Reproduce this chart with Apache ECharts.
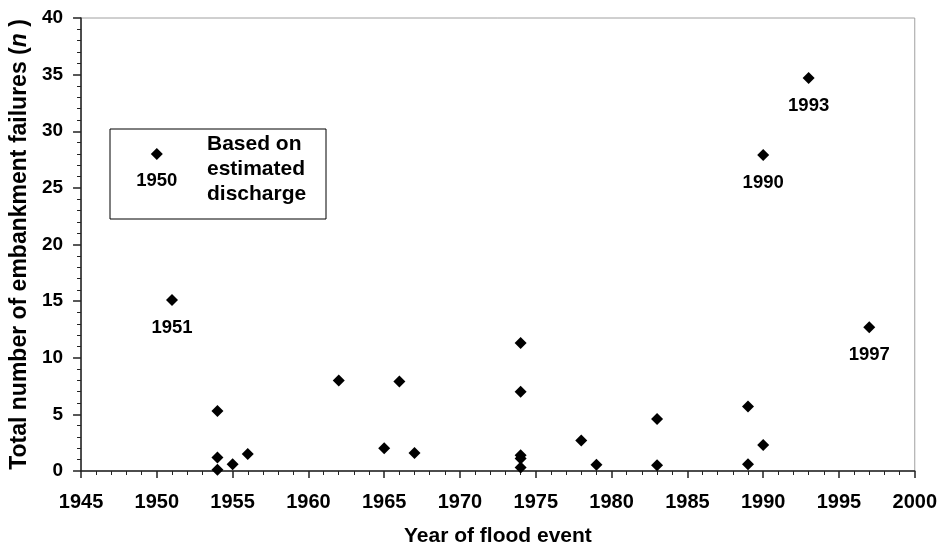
<!DOCTYPE html>
<html>
<head>
<meta charset="utf-8">
<script src="https://cdn.jsdelivr.net/npm/echarts@6/dist/echarts.min.js"></script>
<style>
  html, body { margin: 0; padding: 0; background: #fff; }
  #chart_main { width: 940px; height: 552px; }
</style>
</head>
<body>
<div id="chart_main"></div>
<script>
// flood events: year, number of embankment failures, and the year tag shown under some points
var years    = [1950, 1951, 1954, 1954, 1954, 1955, 1956, 1962, 1965, 1966, 1967, 1974, 1974, 1974, 1974, 1974, 1978, 1979, 1983, 1983, 1989, 1989, 1990, 1990, 1993, 1997];
var failures = [28.0, 15.1, 5.3, 1.2, 0.1, 0.6, 1.5, 8.0, 2.0, 7.9, 1.6, 11.3, 7.0, 1.4, 1.1, 0.3, 2.7, 0.55, 4.6, 0.5, 5.7, 0.6, 2.3, 27.9, 34.7, 12.7];
var tags     = ['1950', '1951', '', '', '', '', '', '', '', '', '', '', '', '', '', '', '', '', '', '', '', '', '', '1990', '1993', '1997'];
var legendLines = ['Based on', 'estimated', 'discharge'];

var font = '"Liberation Sans", Arial, sans-serif';

var points = [];
for (var i = 0; i < years.length; i++) {
    var item = { value: [years[i], failures[i]] };
    if (tags[i]) {
        item.label = { show: true, formatter: tags[i] };
    }
    points.push(item);
}

var myChart = echarts.init(document.getElementById('chart_main'));
var option = {
    animation: false,
    backgroundColor: '#fff',
    grid: {
        left: 81, right: 23, top: 18, bottom: 78,
        show: true,
        borderColor: '#a0a0a0',
        borderWidth: 1
    },
    xAxis: {
        type: 'value',
        min: 1945, max: 2000, interval: 5,
        name: 'Year of flood event',
        nameLocation: 'middle',
        nameGap: 55,
        nameTextStyle: { fontFamily: font, fontWeight: 'bold', fontSize: 21, color: '#000' },
        axisLine: { onZero: false, lineStyle: { color: '#222', width: 1.5 } },
        axisTick: { show: true, length: 7, lineStyle: { color: '#222', width: 1.5 } },
        minorTick: { show: true, splitNumber: 5, length: 4, lineStyle: { color: '#222', width: 1 } },
        axisLabel: {
            margin: 21, fontFamily: font, fontWeight: 'bold', fontSize: 20, color: '#000',
            formatter: function (v) { return String(v); }
        },
        splitLine: { show: false }
    },
    yAxis: {
        type: 'value',
        min: 0, max: 40, interval: 5,
        name: '{a|Total number of embankment failures (}{b|n}{a| )}',
        nameLocation: 'middle',
        nameGap: 49,
        nameTextStyle: {
            rich: {
                a: { fontFamily: font, fontWeight: 'bold', fontSize: 23, color: '#000' },
                b: { fontFamily: font, fontWeight: 'bold', fontStyle: 'italic', fontSize: 23, color: '#000' }
            }
        },
        axisLine: { show: true, lineStyle: { color: '#222', width: 1.5 } },
        axisTick: { show: true, length: 8, lineStyle: { color: '#222', width: 1.5 } },
        minorTick: { show: true, splitNumber: 5, length: 4, lineStyle: { color: '#222', width: 1 } },
        axisLabel: { margin: 18, fontFamily: font, fontWeight: 'bold', fontSize: 19, color: '#000' },
        splitLine: { show: false }
    },
    graphic: [
        {
            type: 'rect',
            shape: { x: 110, y: 129, width: 216, height: 90 },
            style: { fill: 'none', stroke: '#000', lineWidth: 1 },
            z: 0
        },
        {
            type: 'text',
            left: 207, top: 132,
            style: {
                text: legendLines.join('\n'),
                fontFamily: font, fontWeight: 'bold', fontSize: 21,
                lineHeight: 25, fill: '#000'
            },
            z: 1
        }
    ],
    series: [{
        type: 'scatter',
        symbol: 'diamond',
        symbolSize: 12,
        itemStyle: { color: '#000', opacity: 1 },
        label: {
            show: false,
            position: 'bottom',
            distance: 12,
            opacity: 1,
            fontFamily: font, fontWeight: 'bold', fontSize: 18.5, color: '#000'
        },
        data: points,
        z: 5
    }]
};
myChart.setOption(option);
</script>
</body>
</html>
